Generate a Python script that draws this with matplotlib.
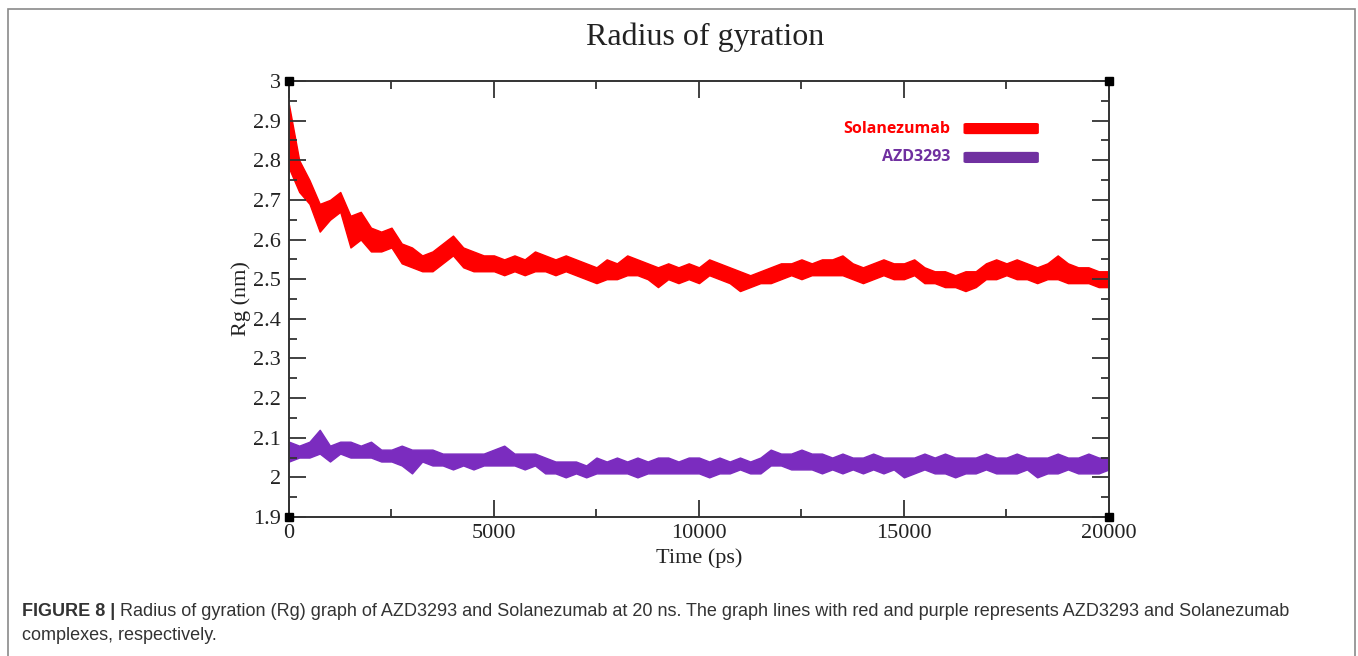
import matplotlib
matplotlib.use("Agg")
import matplotlib.pyplot as plt
import numpy as np
from matplotlib.patches import Rectangle, FancyBboxPatch

# Rg envelopes every 250 ps (upper / lower edge of the noisy band)
time_ps = np.arange(0, 20001, 250)

sol_hi = [2.94, 2.80, 2.75, 2.69, 2.70, 2.72, 2.66, 2.67, 2.63, 2.62,
          2.63, 2.59, 2.58, 2.56, 2.57, 2.59, 2.61, 2.58, 2.57, 2.56,
          2.56, 2.55, 2.56, 2.55, 2.57, 2.56, 2.55, 2.56, 2.55, 2.54,
          2.53, 2.55, 2.54, 2.56, 2.55, 2.54, 2.53, 2.54, 2.53, 2.54,
          2.53, 2.55, 2.54, 2.53, 2.52, 2.51, 2.52, 2.53, 2.54, 2.54,
          2.55, 2.54, 2.55, 2.55, 2.56, 2.54, 2.53, 2.54, 2.55, 2.54,
          2.54, 2.55, 2.53, 2.52, 2.52, 2.51, 2.52, 2.52, 2.54, 2.55,
          2.54, 2.55, 2.54, 2.53, 2.54, 2.56, 2.54, 2.53, 2.53, 2.52,
          2.52]
sol_lo = [2.78, 2.72, 2.69, 2.62, 2.65, 2.67, 2.58, 2.60, 2.57, 2.57,
          2.58, 2.54, 2.53, 2.52, 2.52, 2.54, 2.56, 2.53, 2.52, 2.52,
          2.52, 2.51, 2.52, 2.51, 2.52, 2.52, 2.51, 2.52, 2.51, 2.50,
          2.49, 2.50, 2.50, 2.51, 2.51, 2.50, 2.48, 2.50, 2.49, 2.50,
          2.49, 2.51, 2.50, 2.49, 2.47, 2.48, 2.49, 2.49, 2.50, 2.51,
          2.50, 2.51, 2.51, 2.51, 2.51, 2.50, 2.49, 2.50, 2.51, 2.50,
          2.50, 2.51, 2.49, 2.49, 2.48, 2.48, 2.47, 2.48, 2.50, 2.50,
          2.51, 2.50, 2.50, 2.49, 2.50, 2.50, 2.49, 2.49, 2.49, 2.48,
          2.48]

azd_hi = [2.09, 2.08, 2.09, 2.12, 2.08, 2.09, 2.09, 2.08, 2.09, 2.07,
          2.07, 2.08, 2.07, 2.07, 2.07, 2.06, 2.06, 2.06, 2.06, 2.06,
          2.07, 2.08, 2.06, 2.06, 2.06, 2.05, 2.04, 2.04, 2.04, 2.03,
          2.05, 2.04, 2.05, 2.04, 2.05, 2.04, 2.05, 2.05, 2.04, 2.05,
          2.05, 2.04, 2.05, 2.04, 2.05, 2.04, 2.05, 2.07, 2.06, 2.06,
          2.07, 2.06, 2.06, 2.05, 2.06, 2.05, 2.05, 2.06, 2.05, 2.05,
          2.05, 2.05, 2.06, 2.05, 2.06, 2.05, 2.05, 2.05, 2.06, 2.05,
          2.05, 2.06, 2.05, 2.05, 2.05, 2.06, 2.05, 2.05, 2.06, 2.05,
          2.05]
azd_lo = [2.04, 2.05, 2.05, 2.06, 2.04, 2.06, 2.05, 2.05, 2.05, 2.04,
          2.04, 2.03, 2.01, 2.04, 2.03, 2.03, 2.02, 2.03, 2.02, 2.03,
          2.03, 2.03, 2.03, 2.02, 2.03, 2.01, 2.01, 2.00, 2.01, 2.00,
          2.01, 2.01, 2.01, 2.01, 2.00, 2.01, 2.01, 2.01, 2.01, 2.01,
          2.01, 2.00, 2.01, 2.01, 2.02, 2.01, 2.01, 2.03, 2.03, 2.02,
          2.02, 2.02, 2.01, 2.02, 2.01, 2.02, 2.01, 2.02, 2.01, 2.02,
          2.00, 2.01, 2.02, 2.01, 2.01, 2.00, 2.01, 2.01, 2.02, 2.01,
          2.01, 2.01, 2.02, 2.00, 2.01, 2.01, 2.02, 2.01, 2.01, 2.01,
          2.02]

series_names = ['Solanezumab', 'AZD3293']
series_colors = ['#ff0000', '#7b2cbf']
legend_colors = ['#ff0000', '#7030a0']

SERIF = ['Liberation Serif', 'DejaVu Serif']
CAPTION = ['Liberation Sans', 'DejaVu Sans']

fig = plt.figure(figsize=(13.58, 6.56), dpi=100)
ax = fig.add_axes([0.2128, 0.2119, 0.6038, 0.6646])

for hi, lo, c in [(sol_hi, sol_lo, series_colors[0]), (azd_hi, azd_lo, series_colors[1])]:
    ax.fill_between(time_ps, lo, hi, color=c, lw=1.0, edgecolor=c)

ax.set_xlim(0, 20000)
ax.set_ylim(1.9, 3.0)
ax.set_xticks([0, 5000, 10000, 15000, 20000])
ax.set_xticks([2500, 7500, 12500, 17500], minor=True)
yt = np.round(np.arange(1.9, 3.01, 0.1), 2)
ax.set_yticks(yt)
ax.set_yticklabels(['%g' % v for v in yt])
ax.set_yticks(np.round(np.arange(1.95, 3.0, 0.1), 3), minor=True)
ax.tick_params(which='both', direction='in', top=True, right=True, color='#333333', width=1.3)
ax.tick_params(which='major', length=12, pad=5)
ax.tick_params(which='minor', length=6)
ax.tick_params(axis='y', pad=6)
for lab in ax.get_xticklabels() + ax.get_yticklabels():
    lab.set_fontfamily(SERIF)
    lab.set_fontsize(16)
    lab.set_color('#222222')
for s in ax.spines.values():
    s.set_color('#333333')
    s.set_linewidth(1.4)

# xmgrace corner squares
ax.plot([0, 20000, 0, 20000], [3.0, 3.0, 1.9, 1.9], 's', color='black', ms=6, clip_on=False, zorder=5)

ax.set_xlabel('Time (ps)', fontfamily=SERIF, fontsize=16, labelpad=4, color='#222222')
ax.set_ylabel('Rg (nm)', fontfamily=SERIF, fontsize=16, labelpad=1, color='#222222')
fig.text(0.519, 0.943, 'Radius of gyration', fontfamily=SERIF, fontsize=23,
         ha='center', va='center', color='#222222')

# legend as in the original: label on the left, thick rounded bar on the right
for i, name in enumerate(series_names):
    y = 0.804 - i * 0.044
    fig.text(0.700, y, name, fontfamily=['Open Sans', 'DejaVu Sans'], fontweight='bold',
             fontsize=11.5, color=legend_colors[i], ha='right', va='center')
    fig.add_artist(FancyBboxPatch((0.7095, y - 0.0085), 0.0555, 0.017, transform=fig.transFigure,
                                  boxstyle='round,pad=0,rounding_size=0.002',
                                  facecolor=legend_colors[i], edgecolor='none'))

# frame round the figure panel
fig.add_artist(Rectangle((8 / 1358, -0.05), 1347 / 1358, 1.05 - 9 / 656, transform=fig.transFigure,
                         fill=False, edgecolor='#8a8a8a', lw=1.2))

t1 = fig.text(22 / 1358, 1 - 612 / 656, 'FIGURE 8 |', fontfamily=CAPTION, fontweight='bold',
              fontsize=13, color='#333333', va='center')
ax.annotate(' Radius of gyration (Rg) graph of AZD3293 and Solanezumab at 20 ns. The graph lines with red '
            'and purple represents AZD3293 and Solanezumab',
            xy=(1, 0.5), xycoords=t1, va='center', ha='left', fontfamily=CAPTION,
            fontsize=13, color='#333333', annotation_clip=False)
fig.text(22 / 1358, 1 - 636 / 656, 'complexes, respectively.', fontfamily=CAPTION,
         fontsize=13, color='#333333', va='center')

fig.savefig('out.png', dpi=100)
